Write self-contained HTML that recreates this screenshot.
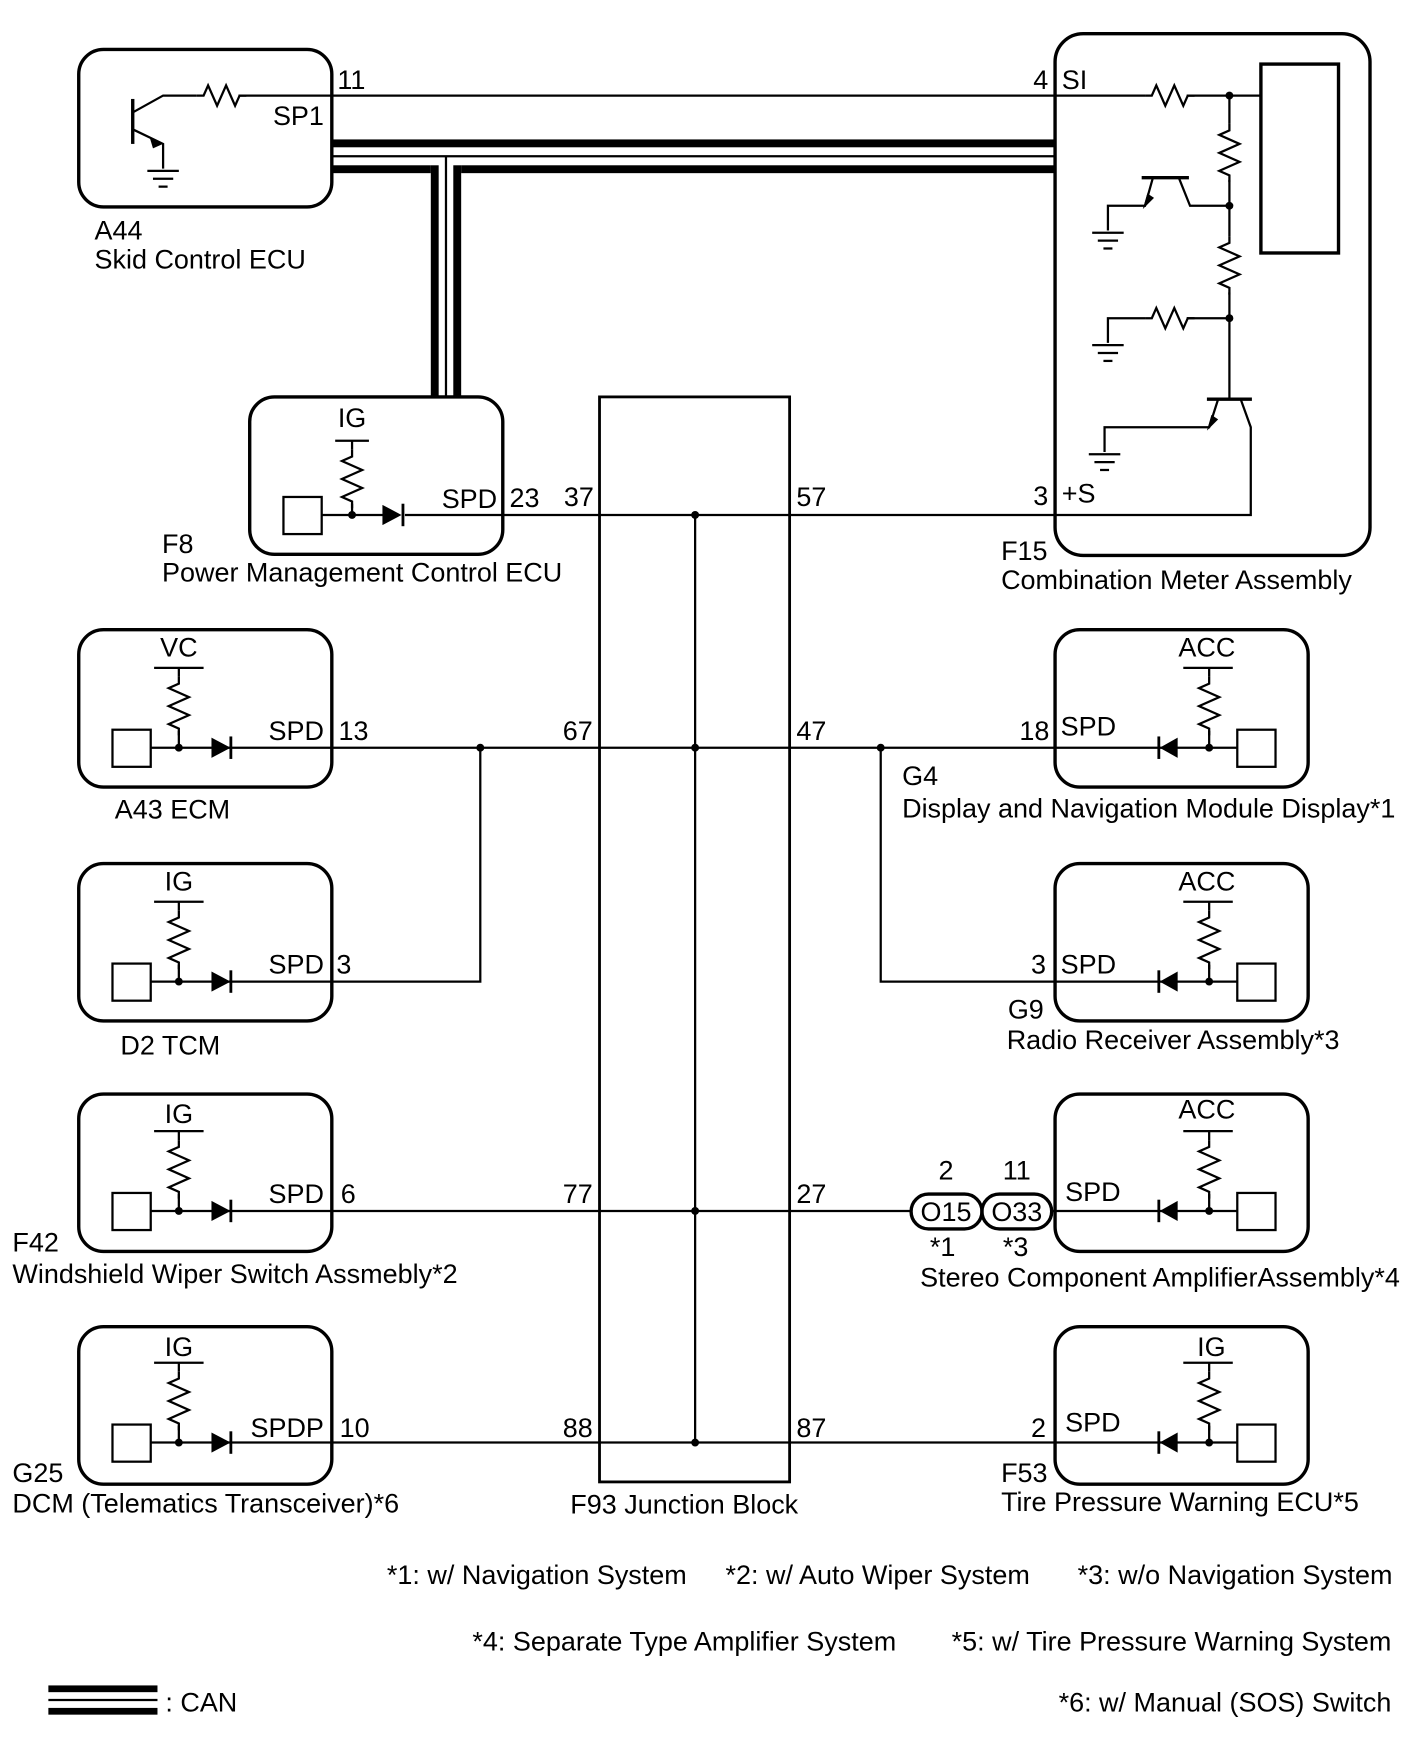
<!DOCTYPE html>
<html><head><style>
html,body{margin:0;padding:0;background:#fff}
svg{display:block}
text{font-family:"Liberation Sans",sans-serif;font-size:24px;fill:#000}
.e{text-anchor:end}
.m{text-anchor:middle}
</style></head><body>
<svg width="1424" height="1763" viewBox="0 0 1266 1568" preserveAspectRatio="none" xmlns="http://www.w3.org/2000/svg">
<defs>
<g id="gnd" stroke="#000" stroke-width="2"><line x1="-14" y1="0" x2="14" y2="0"/><line x1="-9" y1="7" x2="9" y2="7"/><line x1="-4" y1="14" x2="4" y2="14"/></g>
<path id="rv" d="M0,0 l0,6 l-9,4 l18,8 l-18,8 l18,8 l-18,8 l9,4 l0,6" fill="none" stroke="#000" stroke-width="2"/>
<path id="rh" d="M0,0 l6,0 l4,-9 l8,18 l8,-18 l8,18 l4,-9 l6,0" fill="none" stroke="#000" stroke-width="2"/>
</defs>
<g fill="none" stroke="#000" stroke-width="3">
<rect x="70" y="44" width="225" height="140" rx="22"/>
<rect x="938" y="30" width="280" height="464" rx="25"/>
<rect x="1121" y="57" width="69" height="168"/>
<rect x="222" y="353" width="225" height="140" rx="22"/>
<rect x="533" y="353" width="169" height="965" stroke-width="2.5"/>
<rect x="70" y="560" width="225" height="140" rx="22"/>
<rect x="70" y="768" width="225" height="140" rx="22"/>
<rect x="70" y="973" width="225" height="140" rx="22"/>
<rect x="70" y="1180" width="225" height="140" rx="22"/>
<rect x="938" y="560" width="225" height="140" rx="22"/>
<rect x="938" y="768" width="225" height="140" rx="22"/>
<rect x="938" y="973" width="225" height="140" rx="22"/>
<rect x="938" y="1180" width="225" height="140" rx="22"/>
<rect x="810" y="1062" width="63" height="31" rx="15.5"/>
<rect x="873" y="1062" width="62" height="31" rx="15.5"/>
</g>
<g fill="#000">
<rect x="295" y="124" width="643" height="7"/>
<rect x="295" y="147" width="88" height="7"/>
<rect x="410" y="147" width="528" height="7"/>
<rect x="383" y="147" width="7" height="206"/>
<rect x="403" y="147" width="7" height="206"/>
<rect x="43" y="1499" width="97" height="6"/>
<rect x="43" y="1519" width="97" height="6"/>
</g>
<g stroke="#000" stroke-width="2" fill="none">
<line x1="295" y1="139" x2="938" y2="139"/>
<line x1="396.5" y1="139" x2="396.5" y2="353"/>
<line x1="43" y1="1512" x2="140" y2="1512"/>
<line x1="118" y1="88" x2="118" y2="128" stroke-width="3"/>
<polyline points="118,100 145,85 175,85"/>
<polyline points="118,115 145,128 145,150"/>
<line x1="212" y1="85" x2="1018" y2="85"/>
<line x1="1055" y1="85" x2="1121" y2="85"/>
<line x1="1093" y1="85" x2="1093" y2="110"/>
<line x1="1093" y1="160" x2="1093" y2="210"/>
<line x1="1093" y1="260" x2="1093" y2="355"/>
<line x1="1015" y1="158" x2="1057" y2="158" stroke-width="3"/>
<polyline points="1025,158 1018,183 985,183 985,205"/>
<polyline points="1048,158 1058,183 1093,183"/>
<polyline points="985,305 985,283 1018,283"/>
<line x1="1055" y1="283" x2="1093" y2="283"/>
<line x1="1073" y1="355" x2="1113" y2="355" stroke-width="3"/>
<polyline points="1083,355 1075,380 982,380 982,402"/>
<polyline points="1103,355 1112,380 1112,458 360,458"/>
<line x1="298" y1="392" x2="328" y2="392"/>
<line x1="313" y1="392" x2="313" y2="400"/>
<line x1="313" y1="448" x2="313" y2="458"/>
<rect x="252" y="442" width="34" height="33"/>
<line x1="286" y1="458" x2="345" y2="458"/>
<line x1="618" y1="458" x2="618" y2="1283"/>
<line x1="205" y1="665" x2="1030" y2="665"/>
<polyline points="427,665 427,873 205,873"/>
<polyline points="783,665 783,873 1030,873"/>
<line x1="205" y1="1077" x2="810" y2="1077"/>
<line x1="935" y1="1077" x2="1030" y2="1077"/>
<line x1="205" y1="1283" x2="1030" y2="1283"/>
</g>
<use href="#rh" x="175" y="85"/>
<use href="#rh" x="1018" y="85"/>
<use href="#rh" x="1018" y="283"/>
<use href="#rv" x="1093" y="110"/>
<use href="#rv" x="1093" y="210"/>
<use href="#rv" x="313" y="400"/>
<use href="#gnd" x="145" y="152"/>
<use href="#gnd" x="985" y="207"/>
<use href="#gnd" x="985" y="307"/>
<use href="#gnd" x="982" y="404"/>
<g fill="#000">
<polygon points="133,122 145,128 136,132"/>
<polygon points="1016,186 1020,172 1026,176"/>
<polygon points="1073,383 1077,369 1083,373"/>
<circle cx="1093" cy="85" r="3.5"/><circle cx="1093" cy="183" r="3.5"/><circle cx="1093" cy="283" r="3.5"/>
<circle cx="313" cy="458" r="3.5"/>
<polygon points="340,449 340,467 357,458"/><rect x="357" y="448" width="2.5" height="20"/>
<circle cx="618" cy="458" r="3.5"/><circle cx="618" cy="665" r="3.5"/><circle cx="618" cy="1077" r="3.5"/><circle cx="618" cy="1283" r="3.5"/>
<circle cx="427" cy="665" r="3.5"/><circle cx="783" cy="665" r="3.5"/>
</g>
<g id="lm">
<g stroke="#000" stroke-width="2" fill="none">
<line x1="137" y1="594" x2="181" y2="594"/><line x1="159" y1="594" x2="159" y2="602"/><line x1="159" y1="650" x2="159" y2="665"/>
<rect x="100" y="649" width="34" height="33"/><line x1="134" y1="665" x2="205" y2="665"/>
</g>
<use href="#rv" x="159" y="602"/>
<circle cx="159" cy="665" r="3.5"/>
<polygon points="188,656 188,674 205,665"/><rect x="204" y="655" width="2.5" height="20"/>
</g>
<use href="#lm" y="208"/>
<use href="#lm" y="412"/>
<use href="#lm" y="618"/>
<g id="rm">
<g stroke="#000" stroke-width="2" fill="none">
<line x1="1052" y1="594" x2="1096" y2="594"/><line x1="1075" y1="594" x2="1075" y2="602"/><line x1="1075" y1="650" x2="1075" y2="665"/>
<rect x="1100" y="649" width="34" height="33"/><line x1="1030" y1="665" x2="1100" y2="665"/>
</g>
<use href="#rv" x="1075" y="602"/>
<circle cx="1075" cy="665" r="3.5"/>
<polygon points="1047,656 1047,674 1031,665"/><rect x="1029" y="655" width="2.5" height="20"/>
</g>
<use href="#rm" y="208"/>
<use href="#rm" y="412"/>
<use href="#rm" y="618"/>
<text x="300" y="79">11</text><text class="e" x="288" y="111">SP1</text>
<text x="84" y="213">A44</text><text x="84" y="239">Skid Control ECU</text>
<text class="e" x="932" y="79">4</text><text x="944" y="79">SI</text>
<text class="e" x="932" y="449">3</text><text x="944" y="447">+S</text>
<text x="890" y="498">F15</text><text x="890" y="524">Combination Meter Assembly</text>
<text class="m" x="313" y="380">IG</text>
<text class="e" x="442" y="452">SPD</text><text x="453" y="451">23</text><text class="e" x="528" y="450">37</text><text x="708" y="450">57</text>
<text x="144" y="492">F8</text><text x="144" y="517">Power Management Control ECU</text>
<text class="m" x="159" y="584">VC</text><text class="e" x="288" y="658">SPD</text><text x="301" y="658">13</text>
<text x="102" y="728">A43  ECM</text>
<text class="e" x="527" y="658">67</text><text x="708" y="658">47</text>
<text class="m" x="1073" y="584">ACC</text><text class="e" x="933" y="658">18</text><text x="943" y="654">SPD</text>
<text x="802" y="698">G4</text><text x="802" y="727">Display and Navigation Module Display*1</text>
<text class="m" x="159" y="792">IG</text><text class="e" x="288" y="866">SPD</text><text x="299" y="866">3</text>
<text x="107" y="938">D2  TCM</text>
<text class="m" x="1073" y="792">ACC</text><text class="e" x="930" y="866">3</text><text x="943" y="866">SPD</text>
<text x="896" y="906">G9</text><text x="895" y="933">Radio Receiver Assembly*3</text>
<text class="m" x="159" y="999">IG</text><text class="e" x="288" y="1070">SPD</text><text x="303" y="1070">6</text>
<text x="11" y="1113">F42</text><text x="11" y="1141">Windshield Wiper Switch Assmebly*2</text>
<text class="e" x="527" y="1070">77</text><text x="708" y="1070">27</text>
<text class="m" x="841" y="1049">2</text><text class="m" x="904" y="1049">11</text>
<text class="m" x="841" y="1086">O15</text><text class="m" x="904" y="1086">O33</text>
<text class="m" x="838" y="1117">*1</text><text class="m" x="903" y="1117">*3</text>
<text class="m" x="1073" y="995">ACC</text><text x="947" y="1068">SPD</text>
<text x="818" y="1144">Stereo Component AmplifierAssembly*4</text>
<text class="m" x="159" y="1206">IG</text><text class="e" x="288" y="1278">SPDP</text><text x="302" y="1278">10</text>
<text x="11" y="1318">G25</text><text x="11" y="1345">DCM (Telematics Transceiver)*6</text>
<text class="e" x="527" y="1278">88</text><text x="708" y="1278">87</text>
<text x="507" y="1346">F93  Junction Block</text>
<text class="m" x="1077" y="1206">IG</text><text class="e" x="930" y="1278">2</text><text x="947" y="1273">SPD</text>
<text x="890" y="1318">F53</text><text x="890" y="1344">Tire Pressure Warning ECU*5</text>
<text x="344" y="1409">*1: w/ Navigation System</text>
<text x="645" y="1409">*2: w/ Auto Wiper System</text>
<text class="e" x="1238" y="1409">*3: w/o Navigation System</text>
<text x="420" y="1468">*4: Separate Type Amplifier System</text>
<text class="e" x="1237" y="1468">*5: w/ Tire Pressure Warning System</text>
<text x="147" y="1522">: CAN</text>
<text class="e" x="1237" y="1522">*6: w/ Manual (SOS) Switch</text>
</svg>
</body></html>
